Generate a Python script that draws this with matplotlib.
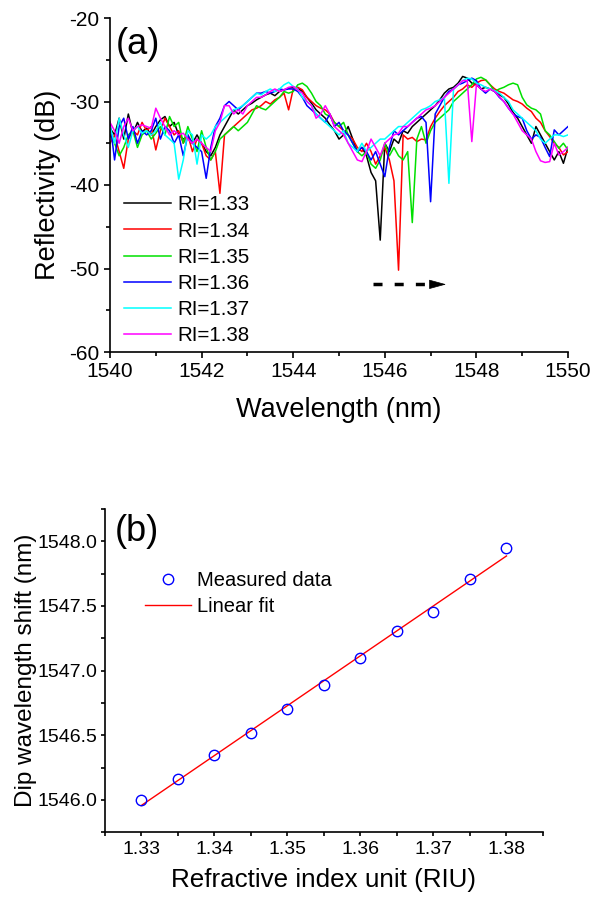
import numpy as np
import matplotlib
matplotlib.use('Agg')
import matplotlib.pyplot as plt
from matplotlib.ticker import MultipleLocator, FormatStrFormatter

plt.rcParams['font.family'] = ['Liberation Sans', 'DejaVu Sans']
plt.rcParams['axes.unicode_minus'] = False

# ---- panel (a): reflection spectra, 0.1 nm grid from 1540 to 1550 ----
wavelength = np.round(np.arange(1540.0, 1550.01, 0.1), 1)

ri_labels = ['RI=1.33', 'RI=1.34', 'RI=1.35', 'RI=1.36', 'RI=1.37', 'RI=1.38']
ri_colors = ['#000000', '#ff0000', '#00e000', '#0000ff', '#00ffff', '#ff00ff']

refl_133 = [-33.2, -34.0, -32.0, -34.5, -31.5, -33.8, -32.5, -33.6, -33.2, -34.0,
            -33.0, -32.2, -31.8, -33.0, -32.5, -34.0, -34.5, -34.2, -35.0, -34.0,
            -35.0, -36.0, -36.5, -35.5, -34.0, -33.0, -32.0, -31.0, -31.5, -31.0,
            -30.5, -30.2, -29.8, -29.5, -29.2, -29.0, -29.3, -28.8, -28.6, -28.4,
            -28.3, -28.4, -28.8, -29.5, -30.2, -31.0, -31.5, -32.0, -32.8, -33.5,
            -34.5, -34.0, -33.0, -34.5, -36.0, -35.5, -36.5, -38.5, -39.5, -46.6,
            -35.0, -36.0, -34.5, -35.0, -33.5, -33.8, -33.0, -32.5, -32.0, -31.5,
            -31.0, -30.5, -29.8, -29.0, -28.5, -28.3, -27.8, -27.0, -27.2, -27.8,
            -28.0, -28.5, -28.3, -28.5, -28.8, -29.2, -29.5, -30.3, -31.3, -32.0,
            -33.0, -34.0, -35.0, -33.0, -34.0, -35.0, -36.0, -37.0, -36.0, -37.4,
            -35.5]
refl_134 = [-35.0, -34.0, -36.0, -38.0, -34.5, -33.5, -34.0, -32.5, -33.5, -33.0,
            -35.8, -33.5, -32.0, -33.0, -34.0, -33.5, -35.0, -34.0, -36.0, -34.5,
            -35.0, -36.5, -37.0, -36.0, -41.0, -34.0, -33.5, -33.0, -32.5, -32.0,
            -31.5, -31.0, -30.8, -30.5, -30.0, -30.3, -29.8, -29.5, -29.0, -31.0,
            -28.5, -28.3, -28.6, -29.5, -30.0, -30.5, -30.8, -31.0, -31.5, -32.5,
            -33.0, -33.5, -34.0, -34.5, -35.5, -36.0, -35.0, -36.0, -37.5, -36.5,
            -35.5, -37.0, -39.5, -50.2, -34.0, -34.5, -34.3, -34.8, -34.5, -34.6,
            -33.0, -32.0, -31.2, -30.5, -30.0, -29.5, -28.8, -28.5, -28.0, -28.3,
            -27.8, -27.5, -27.4, -28.0, -28.5, -28.8, -29.0, -29.4, -29.8, -30.0,
            -30.3, -30.8, -31.2, -32.0, -32.5, -33.5, -34.2, -35.0, -35.5, -36.4,
            -36.0]
refl_135 = [-34.0, -35.0, -36.5, -35.5, -34.0, -33.5, -35.5, -34.0, -33.5, -34.5,
            -33.8, -33.0, -34.0, -31.8, -33.0, -32.5, -35.0, -33.0, -34.5, -36.0,
            -33.5, -35.5, -37.0, -36.0, -34.5, -34.0, -33.5, -33.0, -33.5, -33.0,
            -32.5, -31.5, -30.5, -30.8, -31.0, -30.5, -30.0, -29.5, -28.8, -29.0,
            -28.8, -28.0, -27.8, -28.2, -29.0, -30.0, -30.5, -31.5, -31.8, -32.5,
            -33.0, -32.5, -34.0, -35.0, -36.0, -36.5, -36.0, -37.5, -38.0, -37.0,
            -35.0, -36.5, -35.5, -36.5, -37.0, -36.0, -44.5, -34.5, -33.0, -35.0,
            -33.5, -32.5, -32.0, -31.5, -31.0, -30.0, -29.5, -29.0, -28.5, -28.0,
            -27.3, -27.1, -27.4, -28.0, -28.8, -28.5, -28.3, -28.0, -27.8, -28.0,
            -29.5, -30.4, -30.8, -31.0, -31.5, -33.5, -34.0, -34.8, -35.6, -35.0,
            -35.8]
refl_136 = [-32.5, -37.0, -33.0, -32.0, -34.5, -33.0, -35.0, -33.5, -34.0, -33.5,
            -32.0, -34.5, -33.0, -33.5, -35.0, -34.0, -36.5, -34.0, -35.0, -35.5,
            -36.0, -39.2, -35.5, -33.0, -32.0, -30.5, -30.0, -30.5, -31.0, -30.5,
            -30.0, -29.5, -29.0, -29.0, -28.8, -29.0, -28.8, -28.5, -28.6, -28.5,
            -28.5, -28.8, -29.5, -30.5, -31.0, -31.5, -32.0, -32.5, -31.5, -33.0,
            -32.5, -33.5, -34.0, -35.0, -36.0, -35.5, -36.0, -37.0, -36.0, -37.5,
            -39.0, -35.5, -33.5, -34.0, -33.5, -33.0, -32.5, -32.0, -31.8, -32.5,
            -42.0, -31.5, -30.5, -29.5, -28.8, -28.5, -28.0, -27.8, -27.5, -27.2,
            -27.5, -28.5, -29.0, -28.5, -28.8, -29.5, -30.0, -30.8, -31.5, -31.8,
            -32.0, -33.5, -34.5, -34.0, -34.3, -35.5, -36.6, -33.4, -34.0, -33.5,
            -33.0]
refl_137 = [-33.0, -35.0, -32.0, -34.0, -35.5, -33.5, -33.0, -33.8, -33.5, -34.0,
            -33.5, -32.5, -34.0, -34.5, -35.0, -39.3, -37.0, -33.5, -34.0, -37.5,
            -34.0, -34.5, -34.0, -33.0, -32.5, -32.0, -31.5, -31.0, -30.8, -30.5,
            -30.0, -29.5, -29.0, -29.2, -28.8, -28.5, -28.8, -28.5, -28.0, -27.7,
            -28.2, -28.5, -29.5, -30.0, -30.5, -31.5, -32.0, -32.5, -33.0, -33.5,
            -34.0, -33.5, -35.0, -35.5, -36.0, -35.0, -36.0, -35.5, -35.0, -34.5,
            -34.5, -34.0, -33.5, -33.0, -33.0, -32.5, -32.0, -31.5, -31.0, -30.8,
            -30.5, -30.0, -29.8, -29.5, -39.8, -28.5, -28.0, -27.5, -27.2, -27.3,
            -27.8, -28.0, -28.3, -28.5, -28.7, -29.0, -29.5, -30.0, -31.0, -31.5,
            -32.0, -32.5, -33.0, -33.5, -34.5, -35.0, -34.5, -34.0, -34.0, -34.2,
            -34.0]
refl_138 = [-32.5, -33.5, -35.0, -33.0, -32.0, -33.5, -33.0, -32.8, -33.0, -33.2,
            -30.8, -32.0, -33.0, -34.0, -33.5, -34.0, -33.8, -34.5, -35.0, -34.5,
            -35.0, -35.5, -36.0, -33.5, -32.5, -30.5, -30.5, -31.5, -31.0, -31.5,
            -30.5, -30.0, -29.5, -29.5, -29.2, -28.8, -28.5, -28.8, -28.6, -28.3,
            -28.2, -28.6, -29.0, -30.0, -30.5, -32.0, -31.5, -30.5, -31.5, -33.0,
            -33.5, -34.0, -35.0, -36.0, -37.0, -37.2, -36.0, -34.5, -35.5, -36.5,
            -35.0, -34.5, -34.0, -33.8, -33.0, -33.0, -32.5, -32.0, -31.5, -31.0,
            -30.8, -30.5, -30.0, -29.5, -29.0, -28.5, -28.0, -27.5, -27.5, -34.8,
            -28.0, -28.5, -28.8, -28.5, -28.8, -29.4, -30.0, -30.8, -31.5, -32.5,
            -33.5, -34.0, -34.5, -36.0, -37.1, -37.3, -37.2, -35.0, -36.4, -36.0,
            -35.5]
spectra = [refl_133, refl_134, refl_135, refl_136, refl_137, refl_138]

# shift arrow (start, end wavelength; level in dB)
arrow_x = [1545.75, 1547.34]
arrow_y = -51.9

# ---- panel (b): dip wavelength vs refractive index ----
ri_values = [1.330, 1.335, 1.340, 1.345, 1.350, 1.355, 1.360, 1.365, 1.370, 1.375, 1.380]
dip_wl = [1546.00, 1546.16, 1546.35, 1546.52, 1546.70, 1546.89, 1547.10, 1547.31,
          1547.45, 1547.71, 1547.95]

fig = plt.figure(figsize=(5.97, 9.09), dpi=100)

def style_axes(ax):
    for side in ['top', 'right']:
        ax.spines[side].set_visible(False)
    for side in ['left', 'bottom']:
        ax.spines[side].set_linewidth(1.2)
    ax.tick_params(which='both', direction='out', width=1.2)
    ax.tick_params(which='major', length=4)
    ax.tick_params(which='minor', length=3)

# (a)
ax1 = fig.add_axes([110 / 597, 1 - 352 / 909, 458 / 597, 334 / 909])
for vals, lab, col in zip(spectra, ri_labels, ri_colors):
    ax1.plot(wavelength, vals, color=col, lw=1.1, label=lab)
ax1.set_xlim(1540, 1550)
ax1.set_ylim(-60, -20)
ax1.xaxis.set_major_locator(MultipleLocator(2))
ax1.xaxis.set_minor_locator(MultipleLocator(1))
ax1.yaxis.set_major_locator(MultipleLocator(10))
ax1.yaxis.set_minor_locator(MultipleLocator(5))
style_axes(ax1)
ax1.tick_params(labelsize=15)
ax1.set_xlabel('Wavelength (nm)', fontsize=19.5, va='center')
ax1.xaxis.set_label_coords(0.5, -0.174)
ax1.set_ylabel('Reflectivity (dB)', fontsize=19.5, va='center')
ax1.yaxis.set_label_coords(-0.136, 0.5)
ax1.text(0.012, 0.972, '(a)', transform=ax1.transAxes, fontsize=26, va='top', ha='left')
ax1.legend(loc='upper left', bbox_to_anchor=(0.0, 0.512), frameon=False, fontsize=14.8,
           handlelength=2.27, handletextpad=0.3, labelspacing=0.35, borderpad=0.2)
ax1.plot([arrow_x[0], arrow_x[1] - 0.3], [arrow_y, arrow_y], color='k', lw=2.5,
         dashes=(2.6, 3.5))
ax1.annotate('', xy=(arrow_x[1], arrow_y), xytext=(arrow_x[1] - 0.33, arrow_y),
             arrowprops=dict(arrowstyle='-|>,head_length=1.1,head_width=0.3',
                             color='k', lw=0.5, shrinkA=0, shrinkB=0))

# (b)
ax2 = fig.add_axes([104.7 / 597, 1 - 832.3 / 909, 438.3 / 597, 323.3 / 909])
ax2.plot(ri_values, dip_wl, 'o', mfc='none', mec='#0000ff', ms=7.5, mew=1.0,
         label='Measured data', zorder=3)
slope, intercept = np.polyfit(ri_values, dip_wl, 1)
fit_x = np.array([ri_values[0], ri_values[-1]])
ax2.plot(fit_x, slope * fit_x + intercept, color='#ff0000', lw=1.0, label='Linear fit')
ax2.set_xlim(1.325, 1.385)
ax2.set_ylim(1545.75, 1548.25)
ax2.xaxis.set_major_locator(MultipleLocator(0.01))
ax2.xaxis.set_minor_locator(MultipleLocator(0.005))
ax2.yaxis.set_major_locator(MultipleLocator(0.5))
ax2.yaxis.set_minor_locator(MultipleLocator(0.25))
ax2.xaxis.set_major_formatter(FormatStrFormatter('%.2f'))
ax2.yaxis.set_major_formatter(FormatStrFormatter('%.1f'))
style_axes(ax2)
ax2.tick_params(which='both', length=3)
ax2.tick_params(labelsize=14)
ax2.tick_params(axis='y', pad=2.5)
ax2.set_xlabel('Refractive index unit (RIU)', fontsize=18.7, va='center')
ax2.xaxis.set_label_coords(0.5, -0.148)
ax2.set_ylabel('Dip wavelength shift (nm)', fontsize=17.5, va='center')
ax2.yaxis.set_label_coords(-0.18, 0.5)
ax2.text(0.024, 0.985, '(b)', transform=ax2.transAxes, fontsize=26, va='top', ha='left')
ax2.legend(loc='upper left', bbox_to_anchor=(0.06, 0.851), frameon=False, fontsize=14.5,
           handlelength=2.3, handletextpad=0.3, labelspacing=0.33, borderpad=0.2)

fig.savefig('out.png', dpi=100)
